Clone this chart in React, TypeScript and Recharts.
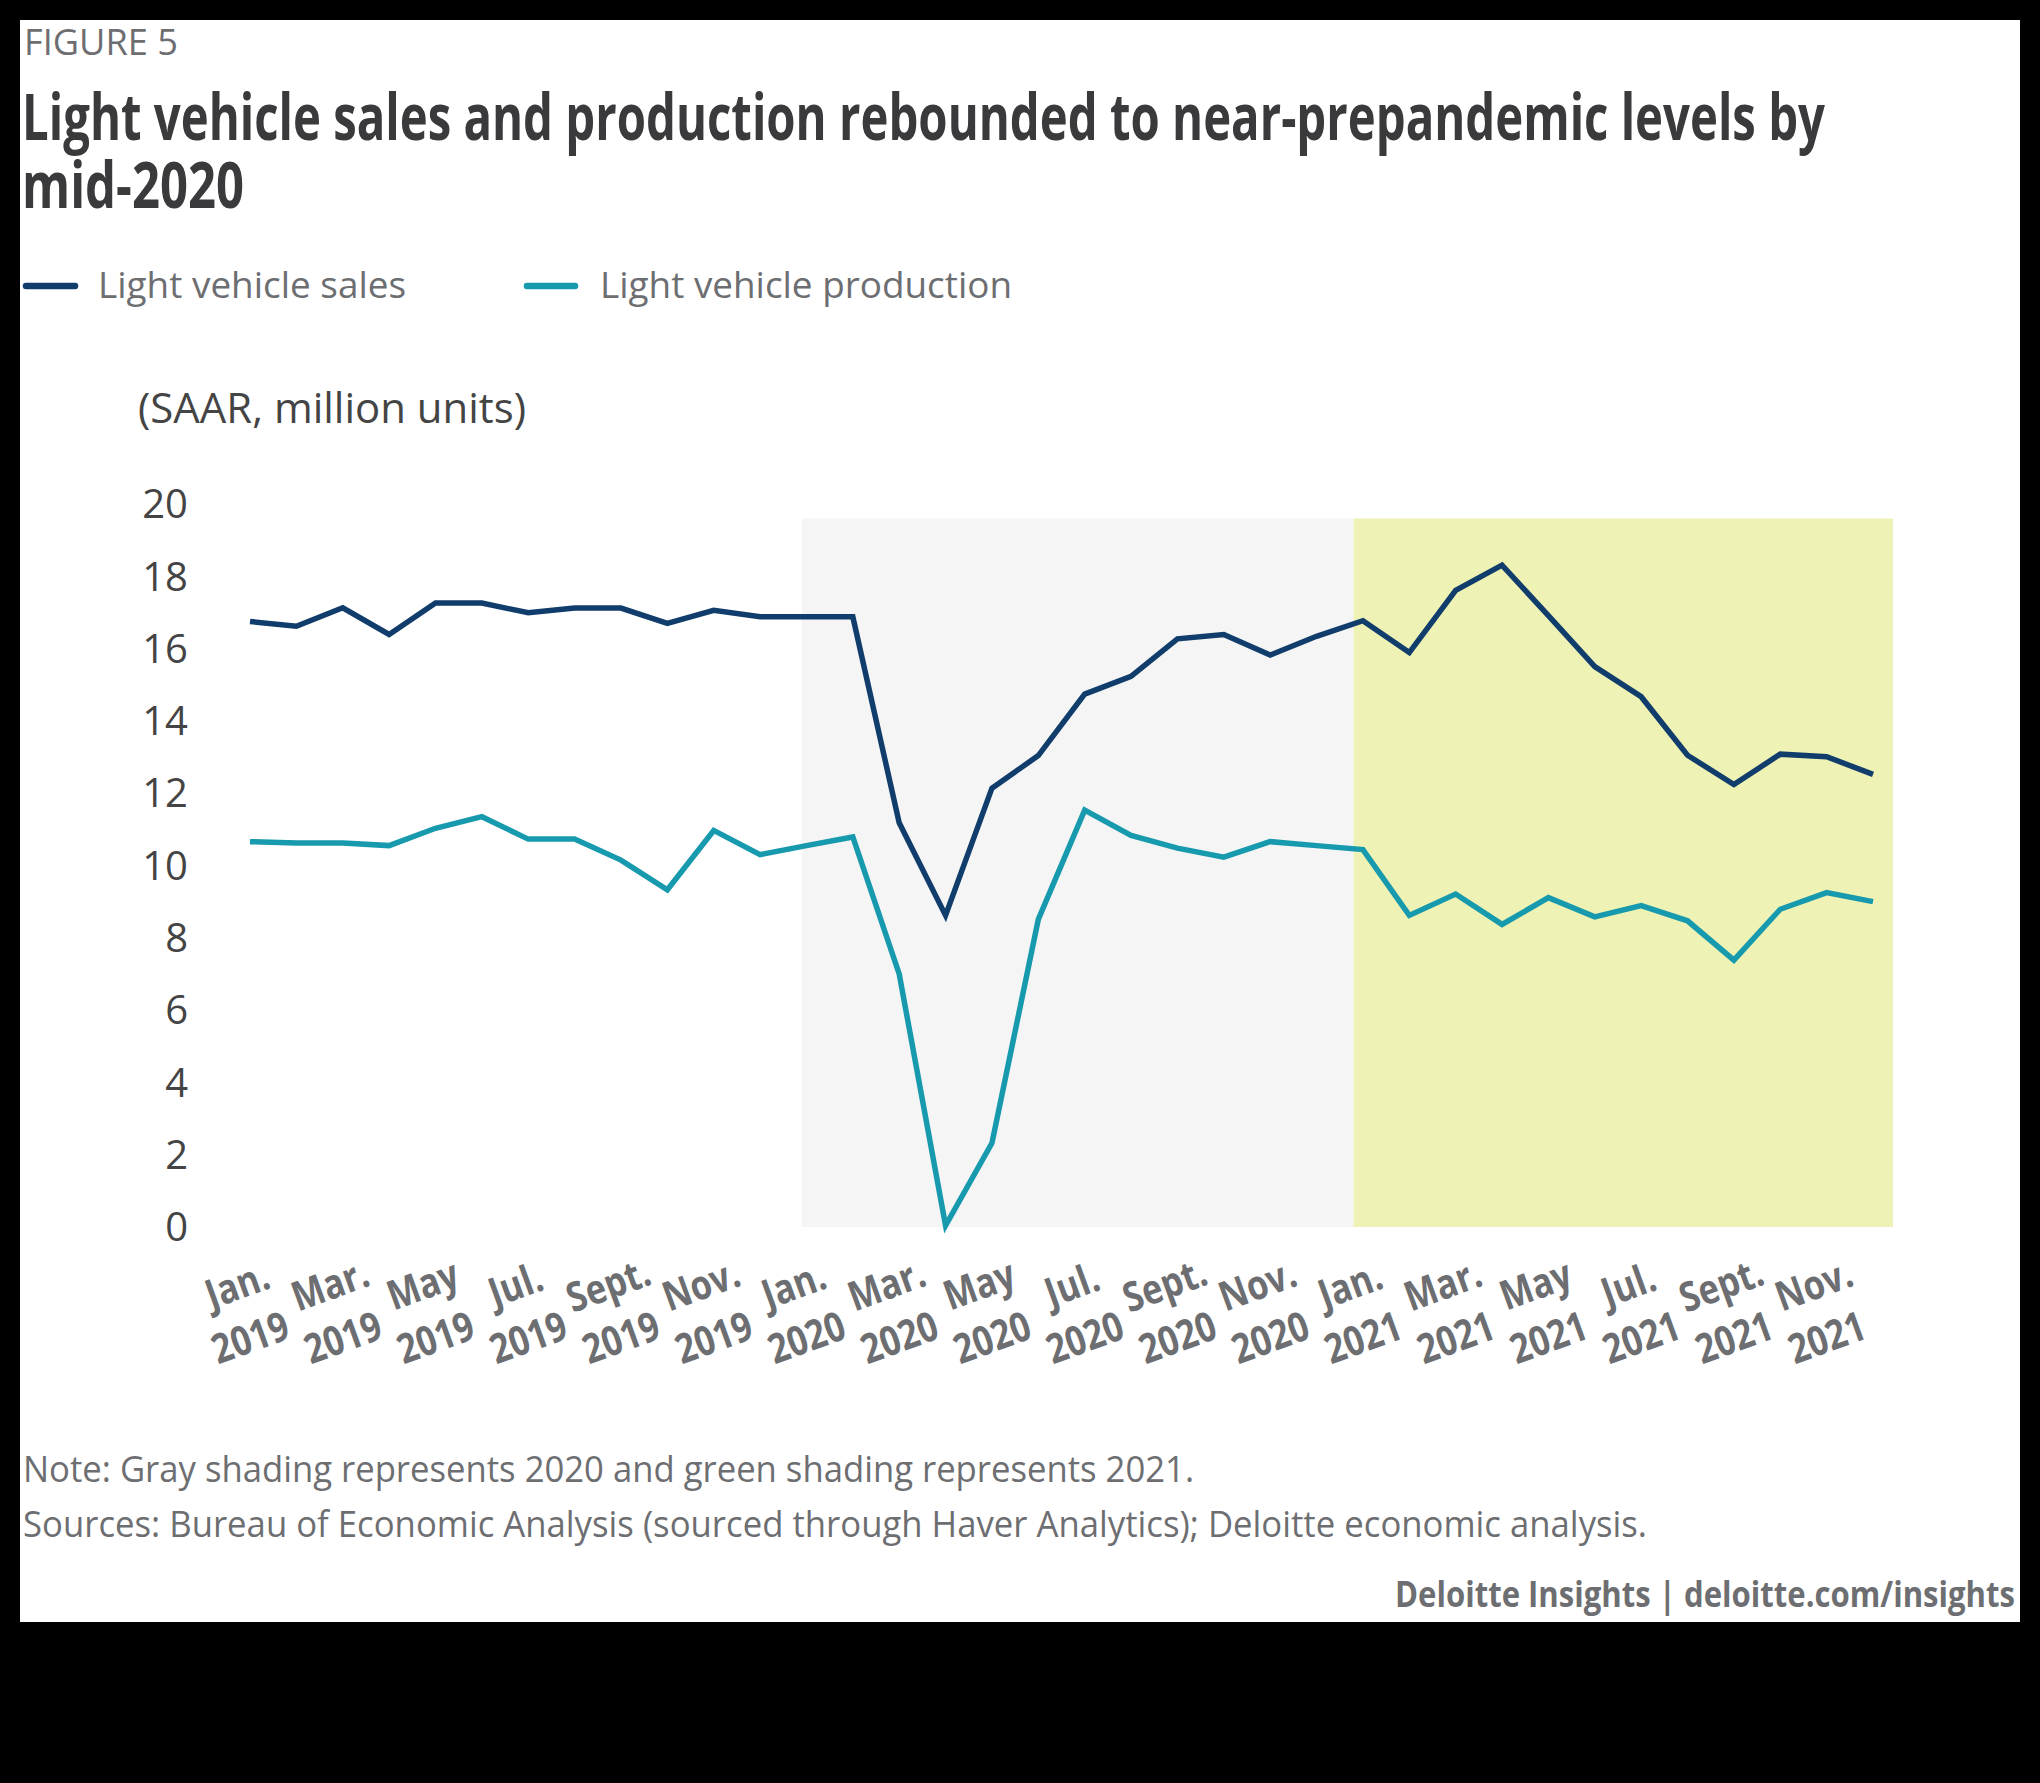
import React from "react"
import { LineChart, Line, XAxis, YAxis, ReferenceArea } from "recharts"

// Monthly SAAR, million units, Jan 2019 .. Dec 2021
const months = [
  "Jan 2019", "Feb 2019", "Mar 2019", "Apr 2019", "May 2019", "Jun 2019",
  "Jul 2019", "Aug 2019", "Sep 2019", "Oct 2019", "Nov 2019", "Dec 2019",
  "Jan 2020", "Feb 2020", "Mar 2020", "Apr 2020", "May 2020", "Jun 2020",
  "Jul 2020", "Aug 2020", "Sep 2020", "Oct 2020", "Nov 2020", "Dec 2020",
  "Jan 2021", "Feb 2021", "Mar 2021", "Apr 2021", "May 2021", "Jun 2021",
  "Jul 2021", "Aug 2021", "Sep 2021", "Oct 2021", "Nov 2021", "Dec 2021",
]

const sales = [
  16.75, 16.62, 17.13, 16.39, 17.26, 17.26, 16.99, 17.12, 17.12, 16.7, 17.06, 16.88,
  16.88, 16.88, 11.18, 8.62, 12.14, 13.04, 14.74, 15.23, 16.27, 16.39, 15.82, 16.34,
  16.77, 15.89, 17.61, 18.31, 16.91, 15.5, 14.67, 13.05, 12.24, 13.08, 13.01, 12.52,
]

const production = [
  10.66, 10.62, 10.62, 10.55, 11.03, 11.35, 10.73, 10.73, 10.15, 9.33, 10.97, 10.3,
  10.55, 10.79, 7.0, 0.04, 2.32, 8.51, 11.53, 10.83, 10.48, 10.23, 10.66, 10.55,
  10.44, 8.62, 9.21, 8.37, 9.11, 8.58, 8.89, 8.47, 7.38, 8.79, 9.25, 9.0,
]

// tick every other month
const xTicks = [0, 2, 4, 6, 8, 10, 12, 14, 16, 18, 20, 22, 24, 26, 28, 30, 32, 34]
const tickMonths = [
  "Jan.", "Mar.", "May", "Jul.", "Sept.", "Nov.",
  "Jan.", "Mar.", "May", "Jul.", "Sept.", "Nov.",
  "Jan.", "Mar.", "May", "Jul.", "Sept.", "Nov.",
]
const tickYears = [
  "2019", "2019", "2019", "2019", "2019", "2019",
  "2020", "2020", "2020", "2020", "2020", "2020",
  "2021", "2021", "2021", "2021", "2021", "2021",
]
const yTicks = [0, 2, 4, 6, 8, 10, 12, 14, 16, 18, 20]

// shaded periods (month index on x)
const shade2020 = [11.9, 23.8]
const shade2021 = [23.8, 35.43]
const shadeTop = 19.6

const SALES_COLOR = "#103d6b"
const PROD_COLOR = "#1799ae"
const GRAY_TEXT = "#6d6e71"
const FONT = "'Open Sans', sans-serif"

const data = months.map((m, i) => ({ i, month: m, sales: sales[i], production: production[i] }))

// two-line rotated label, squeezed horizontally to look like a condensed face
const XTick = ({ x, y, payload }: any) => {
  const idx = xTicks.indexOf(payload.value)
  if (idx < 0) return null
  return (
    <g transform={`translate(${x},${y + 110}) rotate(-20) scale(0.84,1)`}>
      <text x={7} y={-39} textAnchor="middle" fontFamily={FONT} fontWeight={700} fontSize={41} fill={GRAY_TEXT}>
        {tickMonths[idx]}
      </text>
      <text x={0} y={15} textAnchor="middle" fontFamily={FONT} fontWeight={700} fontSize={41} fill={GRAY_TEXT}>
        {tickYears[idx]}
      </text>
    </g>
  )
}

export default function App() {
  return (
    <div style={{ position: "absolute", left: 0, top: 0, width: 2040, height: 1783, background: "#000", fontFamily: FONT }}>
      <div style={{ position: "absolute", left: 20, top: 20, width: 2000, height: 1602, background: "#fff" }} />

      <div style={{ position: "absolute", left: 0, top: 0 }}>
        <LineChart width={2040} height={1400} data={data} margin={{ top: 504, right: 167, bottom: 73, left: 190 }}>
          <ReferenceArea x1={shade2020[0]} x2={shade2020[1]} y1={0} y2={shadeTop} fill="#f5f5f5" fillOpacity={1} stroke="none" ifOverflow="visible" />
          <ReferenceArea x1={shade2021[0]} x2={shade2021[1]} y1={0} y2={shadeTop} fill="#eef2b4" fillOpacity={1} stroke="none" ifOverflow="visible" />
          <XAxis
            dataKey="i"
            type="number"
            domain={[0, 35]}
            ticks={xTicks}
            interval={0}
            axisLine={false}
            tickLine={false}
            tickSize={0}
            tickMargin={0}
            height={100}
            tick={<XTick />}
          />
          <YAxis
            type="number"
            domain={[0, 20]}
            ticks={yTicks}
            interval={0}
            axisLine={false}
            tickLine={false}
            tickSize={0}
            tickMargin={62}
            width={60}
            tick={{ fill: "#444", fontSize: 40, fontFamily: FONT }}
          />
          <Line dataKey="sales" stroke={SALES_COLOR} strokeWidth={5.5} dot={false} isAnimationActive={false} />
          <Line dataKey="production" stroke={PROD_COLOR} strokeWidth={5.5} dot={false} isAnimationActive={false} />
        </LineChart>
      </div>

      <svg width={2040} height={1783} style={{ position: "absolute", left: 0, top: 0, pointerEvents: "none" }}>
        <text x={24} y={55} fontSize={36} fill={GRAY_TEXT} fontFamily={FONT} textLength={154} lengthAdjust="spacingAndGlyphs">
          FIGURE 5
        </text>
        <g fontFamily={FONT} fontWeight={700} fontSize={64} fill="#3a3a3c">
          <text x={22} y={140} textLength={1803} lengthAdjust="spacingAndGlyphs">
            Light vehicle sales and production rebounded to near-prepandemic levels by
          </text>
          <text x={22} y={208} textLength={222} lengthAdjust="spacingAndGlyphs">
            mid-2020
          </text>
        </g>

        {/* legend */}
        <line x1={26} y1={286} x2={75} y2={286} stroke={SALES_COLOR} strokeWidth={6.5} strokeLinecap="round" />
        <text x={98} y={298} fontSize={36} fill={GRAY_TEXT} fontFamily={FONT} textLength={308} lengthAdjust="spacingAndGlyphs">
          Light vehicle sales
        </text>
        <line x1={527} y1={286} x2={575} y2={286} stroke={PROD_COLOR} strokeWidth={6.5} strokeLinecap="round" />
        <text x={600} y={298} fontSize={36} fill={GRAY_TEXT} fontFamily={FONT} textLength={412} lengthAdjust="spacingAndGlyphs">
          Light vehicle production
        </text>

        <text x={138} y={423} fontSize={42} fill="#444" fontFamily={FONT} textLength={388} lengthAdjust="spacingAndGlyphs">
          (SAAR, million units)
        </text>

        <text x={23} y={1482} fontSize={36} fill={GRAY_TEXT} fontFamily={FONT} textLength={1171} lengthAdjust="spacingAndGlyphs">
          Note: Gray shading represents 2020 and green shading represents 2021.
        </text>
        <text x={23} y={1537} fontSize={36} fill={GRAY_TEXT} fontFamily={FONT} textLength={1624} lengthAdjust="spacingAndGlyphs">
          Sources: Bureau of Economic Analysis (sourced through Haver Analytics); Deloitte economic analysis.
        </text>
        <text x={1395} y={1607} fontSize={35} fontWeight={700} fill={GRAY_TEXT} fontFamily={FONT} textLength={620} lengthAdjust="spacingAndGlyphs">
          Deloitte Insights | deloitte.com/insights
        </text>
      </svg>
    </div>
  )
}
